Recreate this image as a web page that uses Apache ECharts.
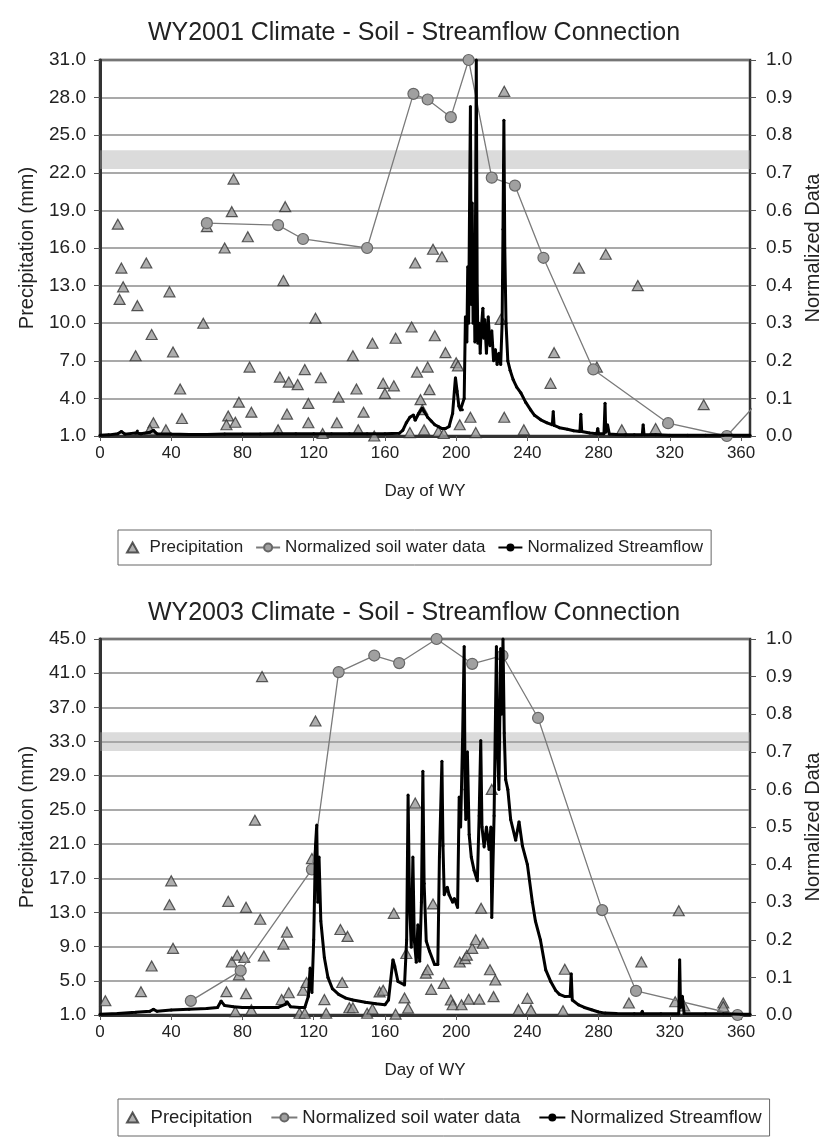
<!DOCTYPE html>
<html lang="en">
<head>
<meta charset="UTF-8">
<title>WY2001 / WY2003 Climate - Soil - Streamflow</title>
<script src="https://cdn.jsdelivr.net/npm/echarts@6/dist/echarts.min.js"></script>
<style>
  html, body { margin: 0; padding: 0; background: #fff; }
  #main { width: 828px; height: 1142px; }
</style>
</head>
<body>
<div id="main"></div>
<script>
// ---- data: [day of WY, value] ----
var precip2001 = [
  [10,17.9],[12,14.4],[13,12.9],[11,11.9],[21,11.4],[20,7.4],[26,14.8],[29,9.1],[39,12.5],[41,7.7],
  [45,4.75],[46,2.4],[30,2.06],[28,1.5],[37,1.5],[35,0.95],[58,10.0],[60,17.7],[70,16.0],[75,21.5],
  [74,18.9],[83,16.9],[103,13.4],[104,19.3],[121,10.4],[84,6.5],[78,3.7],[72,2.6],[71,1.9],[76,2.1],
  [85,2.9],[101,5.7],[106,5.3],[111,5.1],[115,6.3],[124,5.65],[117,3.6],[117,2.06],[105,2.75],[100,1.5],
  [125,1.2],[134,4.1],[133,2.06],[142,7.4],[144,4.75],[148,2.9],[145,1.5],[153,8.4],[154,1.0],[159,5.2],
  [160,4.4],[166,8.8],[165,5.0],[174,1.27],[175,9.7],[177,14.8],[187,15.9],[192,15.3],[188,9.0],[194,7.65],
  [178,6.1],[184,6.5],[185,4.7],[200,6.85],[201,6.6],[180,3.9],[181,3.1],[182,1.5],[190,1.35],[193,1.2],
  [202,1.9],[208,2.5],[211,1.27],[227,28.5],[225,10.3],[227,2.5],[238,1.5],[255,7.65],[253,5.2],[269,14.4],
  [284,15.5],[302,13.0],[279,6.5],[293,1.5],[312,1.6],[339,3.5]
];
var soil2001 = [
  [60,0.566],[100,0.561],[114,0.524],[150,0.5],[176,0.91],[184,0.895],[197,0.848],[207,1.0],
  [220,0.687],[233,0.666],[249,0.474],[277,0.177],[319,0.034],[352,0.0],[380,0.145]
];
var flow2001 = [
  [0,0.002],[5,0.003],[10,0.006],[12,0.012],[14,0.005],[20,0.008],[21,0.013],[23,0.006],[28,0.01],[30,0.015],
  [32,0.006],[40,0.005],[50,0.004],[60,0.004],[70,0.005],[80,0.005],[90,0.005],[100,0.006],[110,0.006],[120,0.006],
  [130,0.006],[140,0.006],[150,0.006],[160,0.006],[168,0.007],[170,0.015],[172,0.035],[174,0.05],[176,0.056],[177,0.042],
  [179,0.06],[181,0.074],[182,0.065],[184,0.05],[186,0.04],[188,0.03],[190,0.025],[192,0.02],[194,0.02],[196,0.025],
  [198,0.06],[199,0.12],[199.6,0.155],[200.5,0.12],[201.5,0.08],[202.4,0.069],[203.5,0.07],[204.5,0.1],[205.2,0.317],[206,0.25],
  [206.5,0.45],[207,0.3],[207.5,0.6],[208,0.876],[208.5,0.35],[209,0.62],[209.5,0.3],[210,0.5],[210.5,0.25],[211,0.7],
  [211.3,1.0],[211.8,0.4],[212.2,0.247],[213,0.3],[213.5,0.22],[214,0.28],[215,0.34],[215.5,0.26],[216,0.31],[217,0.22],
  [218,0.317],[219,0.24],[220,0.28],[221,0.2],[222,0.23],[223,0.19],[224,0.22],[225,0.19],[225.8,0.3],[226.3,0.55],
  [226.8,0.84],[227.3,0.5],[228,0.3],[229,0.2],[230.3,0.175],[232,0.15],[234,0.13],[236.3,0.115],[239,0.09],[241.9,0.069],
  [244,0.055],[247.5,0.043],[251,0.035],[254,0.03],[254.5,0.065],[255,0.028],[258,0.022],[262.5,0.018],[266,0.014],[269.5,0.012],
  [270,0.058],[270.5,0.012],[275,0.008],[279,0.006],[279.5,0.02],[280,0.006],[283,0.006],[283.6,0.087],[284,0.01],[285,0.03],
  [286,0.005],[290,0.004],[295,0.003],[300,0.003],[304.5,0.003],[305,0.03],[305.5,0.003],[312,0.003],[320,0.002],[330,0.002],
  [340,0.002],[350,0.002],[365,0.002]
];

var precip2003 = [
  [3,2.67],[23,3.73],[29,6.73],[40,16.7],[39,13.9],[41,8.8],[72,14.3],[71,3.73],[74,7.2],[77,8.0],
  [81,7.75],[78,5.7],[82,13.6],[82,3.5],[90,12.2],[87,23.8],[91,40.6],[92,7.9],[105,10.7],[103,9.3],
  [102,2.8],[106,3.6],[76,1.4],[85,1.6],[114,3.9],[116,4.8],[112,1.2],[115,1.2],[119,19.3],[120,18.2],
  [121,35.4],[126,2.8],[127,1.2],[135,11.0],[139,10.2],[136,4.8],[140,1.85],[142,1.85],[150,1.2],[153,1.7],
  [157,3.7],[159,3.9],[165,12.9],[166,1.1],[171,3.0],[172,8.2],[173,1.8],[177,25.8],[183,5.9],[184,6.3],
  [186,4.0],[187,14.0],[193,4.7],[197,2.75],[198,2.2],[203,2.2],[207,2.85],[213,2.85],[202,7.2],[205,7.6],
  [206,8.0],[209,8.8],[211,9.8],[215,9.4],[214,13.5],[219,6.3],[222,5.1],[221,3.15],[220,27.4],[235,1.6],
  [240,2.95],[242,1.6],[261,6.35],[260,1.5],[297,2.4],[304,7.2],[325,13.2],[323,2.55],[328,2.05],[350,2.4],
  [350,2.0]
];
var soil2003 = [
  [51,0.0375],[79,0.118],[119,0.387],[134,0.912],[154,0.956],[168,0.936],[189,1.0],[209,0.934],
  [226,0.956],[246,0.79],[282,0.279],[301,0.064],[358,0.0]
];
var flow2003 = [
  [0,0.002],[10,0.004],[20,0.007],[28,0.01],[30,0.015],[32,0.01],[40,0.013],[50,0.015],[60,0.017],[66,0.02],
  [68,0.037],[70,0.025],[75,0.022],[80,0.02],[90,0.02],[100,0.02],[104,0.028],[105,0.035],[107,0.022],[112,0.02],
  [115,0.02],[117,0.05],[118,0.125],[119,0.06],[120,0.2],[121,0.45],[121.7,0.505],[122.3,0.3],[123,0.42],[124,0.25],
  [126,0.152],[128,0.1],[130.5,0.07],[134,0.055],[138,0.045],[142,0.04],[149,0.034],[155,0.03],[160,0.027],[162,0.04],
  [164.5,0.147],[165.5,0.13],[167.3,0.089],[171,0.08],[172.2,0.2],[173,0.585],[173.8,0.3],[174.8,0.18],[175.7,0.42],[176.5,0.2],
  [177.6,0.14],[178.5,0.24],[179.5,0.143],[180.5,0.3],[181.3,0.648],[182,0.35],[183.2,0.197],[185,0.17],[187.9,0.134],[189.7,0.134],
  [190.6,0.42],[192,0.675],[192.6,0.45],[193.3,0.32],[195,0.34],[196,0.32],[198,0.3],[199,0.31],[200.8,0.286],[201.7,0.58],
  [202.5,0.5],[203.6,0.733],[204.5,0.98],[205,0.6],[205.4,0.52],[206.3,0.7],[207.3,0.48],[208.5,0.42],[210.1,0.384],[211.9,0.357],
  [212.9,0.53],[213.8,0.73],[214.5,0.5],[215.7,0.447],[217,0.5],[218.5,0.44],[219.5,0.5],[220,0.259],[221.3,0.53],[222.6,0.98],
  [223.3,0.7],[224,0.6],[225,0.975],[225.5,0.8],[226.3,1.0],[227,0.75],[227.8,0.626],[229,0.6],[230.6,0.52],[233.4,0.465],
  [235.3,0.514],[237.2,0.45],[240,0.4],[242.8,0.3],[244.5,0.25],[247.3,0.2],[250.3,0.12],[253,0.09],[255.9,0.065],[258,0.055],
  [261.2,0.049],[264,0.05],[264.6,0.11],[265.2,0.04],[268.7,0.027],[272,0.02],[276,0.014],[280,0.008],[283.6,0.005],[290,0.004],
  [300,0.003],[304,0.003],[304.5,0.01],[305,0.003],[315,0.003],[325,0.003],[325.5,0.147],[326,0.02],[327,0.05],[328,0.004],
  [340,0.003],[350,0.003],[360,0.002],[365,0.002]
];

// axis ranges [min, max, interval]
var dayAxis = [0, 365, 40];
var precipAxis2001 = [1, 31, 3];
var precipAxis2003 = [1, 45, 4];
var normAxis = [0, 1, 0.1];
// faint grey band seen across each plot (mm)
var band2001 = [22.3, 23.8];
var band2003 = [31.9, 34.1];

var FONT = 'Liberation Sans, Arial, sans-serif';
var TRI = 'path://M5,0 L10,9 L0,9 Z';
var myChart = echarts.init(document.getElementById('main'));

function xAxisFor(gi) {
  return {
    type: 'value', gridIndex: gi,
    min: dayAxis[0], max: dayAxis[1], interval: dayAxis[2],
    name: 'Day of WY', nameLocation: 'middle', nameGap: 47,
    nameTextStyle: { fontFamily: FONT, fontSize: 17, color: '#222' },
    axisLine: { show: true, lineStyle: { color: '#333', width: 3 } },
    axisTick: { show: true, length: 5, lineStyle: { color: '#555' } },
    axisLabel: { fontFamily: FONT, fontSize: 17, color: '#222', margin: 9, showMaxLabel: false },
    splitLine: { show: false }
  };
}
function leftAxisFor(gi, r) {
  return {
    type: 'value', gridIndex: gi, position: 'left',
    min: r[0], max: r[1], interval: r[2],
    name: 'Precipitation (mm)', nameLocation: 'middle', nameGap: 63, nameRotate: 90,
    nameTextStyle: { fontFamily: FONT, fontSize: 20, color: '#222' },
    axisLine: { show: true, lineStyle: { color: '#333', width: 3 } },
    axisTick: { show: true, length: 6, lineStyle: { color: '#555' } },
    axisLabel: { fontFamily: FONT, fontSize: 19, color: '#222', margin: 14,
      formatter: function (v) { return v.toFixed(1); } },
    splitLine: { show: true, lineStyle: { color: '#8c8c8c', width: 1.5 } }
  };
}
function rightAxisFor(gi) {
  return {
    type: 'value', gridIndex: gi, position: 'right',
    min: normAxis[0], max: normAxis[1], interval: normAxis[2],
    name: 'Normalized Data', nameLocation: 'middle', nameGap: 43, nameRotate: 90,
    nameTextStyle: { fontFamily: FONT, fontSize: 20, color: '#222' },
    axisLine: { show: true, lineStyle: { color: '#333', width: 2 } },
    axisTick: { show: true, length: 6, lineStyle: { color: '#555' } },
    axisLabel: { fontFamily: FONT, fontSize: 19, color: '#222', margin: 16,
      formatter: function (v) { return v.toFixed(1); } },
    splitLine: { show: false }
  };
}
function seriesFor(xi, yl, yr, p, s, f, band) {
  return [{
    name: 'Precipitation', type: 'scatter', xAxisIndex: xi, yAxisIndex: yl,
    symbol: TRI, symbolSize: [11, 10],
    itemStyle: { color: '#9a9a9a', borderColor: '#333', borderWidth: 1.2 },
    data: p, z: 3,
    markArea: { silent: true, itemStyle: { color: 'rgba(165,165,165,0.4)' },
      data: [[{ yAxis: band[0] }, { yAxis: band[1] }]] }
  }, {
    name: 'Normalized soil water data', type: 'line', xAxisIndex: xi, yAxisIndex: yr,
    symbol: 'circle', symbolSize: 11, showAllSymbol: true,
    lineStyle: { color: '#7a7a7a', width: 1.3 },
    itemStyle: { color: '#a0a0a0', borderColor: '#666', borderWidth: 1.2 },
    data: s, z: 4
  }, {
    name: 'Normalized Streamflow', type: 'line', xAxisIndex: xi, yAxisIndex: yr,
    symbol: 'circle', symbolSize: 3, showAllSymbol: true,
    lineStyle: { color: '#000', width: 3 },
    itemStyle: { color: '#000' },
    data: f, z: 5
  }];
}

var legendNames = ['Precipitation', 'Normalized soil water data', 'Normalized Streamflow'];

myChart.setOption({
  animation: false,
  backgroundColor: '#fff',
  title: [
    { text: 'WY2001 Climate - Soil - Streamflow Connection', left: 'center', top: 16,
      textStyle: { fontFamily: FONT, fontSize: 25, fontWeight: 'normal', color: '#222' } },
    { text: 'WY2003 Climate - Soil - Streamflow Connection', left: 'center', top: 596,
      textStyle: { fontFamily: FONT, fontSize: 25, fontWeight: 'normal', color: '#222' } }
  ],
  legend: [
    { data: legendNames, top: 530, left: 118, itemGap: 12, itemWidth: 24, itemHeight: 10,
      borderColor: '#666', borderWidth: 1, padding: [9, 8],
      textStyle: { fontFamily: FONT, fontSize: 17, color: '#222' } },
    { data: legendNames, top: 1099, left: 118, itemGap: 18, itemWidth: 26, itemHeight: 10,
      borderColor: '#666', borderWidth: 1, padding: [9, 8],
      textStyle: { fontFamily: FONT, fontSize: 18.5, color: '#222' } }
  ],
  grid: [
    { left: 100, top: 60, width: 650, height: 376, outerBoundsMode: 'none', show: true,
      borderColor: '#333', borderWidth: 2.5, backgroundColor: 'transparent' },
    { left: 100, top: 639, width: 650, height: 376, outerBoundsMode: 'none', show: true,
      borderColor: '#333', borderWidth: 2.5, backgroundColor: 'transparent' }
  ],
  xAxis: [xAxisFor(0), xAxisFor(1)],
  yAxis: [leftAxisFor(0, precipAxis2001), rightAxisFor(0), leftAxisFor(1, precipAxis2003), rightAxisFor(1)],
  series: seriesFor(0, 0, 1, precip2001, soil2001, flow2001, band2001)
    .concat(seriesFor(1, 2, 3, precip2003, soil2003, flow2003, band2003))
});

window.addEventListener('resize', function () { myChart.resize(); });
</script>
</body>
</html>
